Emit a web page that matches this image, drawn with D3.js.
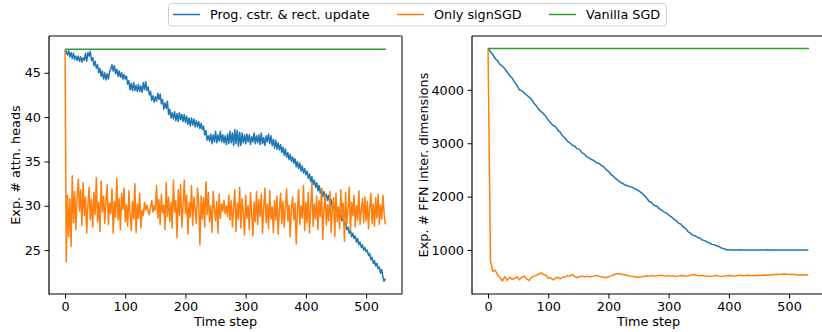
<!DOCTYPE html>
<html>
<head>
<meta charset="utf-8">
<script src="https://cdn.jsdelivr.net/npm/d3@7"></script>
<style>
  html, body { margin: 0; padding: 0; background: #fff; }
  svg { display: block; font-family: "DejaVu Sans", sans-serif; }
</style>
</head>
<body>
<svg id="chart" width="822" height="332"></svg>
<script>
// ---------------- data ----------------
const seriesNames = ["Prog. cstr. & rect. update", "Only signSGD", "Vanilla SGD"];
const seriesColors = ["#1f77b4", "#ff7f0e", "#2ca02c"];

// left panel: time steps 0,2,4,...,532
const stepsLeft = d3.range(0, 533, 2);
const headsProg = [
  47.6, 47.4, 47.0, 47.5, 46.8, 47.3, 46.6, 47.2, 46.5, 46.9,
  46.4, 46.9, 46.3, 46.8, 46.2, 46.7, 46.4, 47.2, 46.3, 47.3,
  46.9, 47.4, 46.4, 46.7, 45.8, 46.3, 45.5, 45.9, 45.0, 45.5,
  44.6, 45.2, 44.3, 45.0, 44.2, 44.9, 44.3, 45.1, 45.4, 45.9,
  45.2, 45.8, 44.9, 45.4, 44.6, 45.2, 44.5, 45.0, 44.3, 44.8,
  44.3, 44.6, 43.7, 44.1, 43.1, 43.8, 43.0, 43.9, 43.0, 43.6,
  42.9, 43.7, 42.9, 43.5, 42.8, 43.9, 43.1, 44.0, 43.0, 43.4,
  42.5, 42.9, 41.9, 42.4, 41.7, 42.3, 41.8, 42.7, 42.0, 42.6,
  41.5, 42.0, 40.9, 41.6, 41.0, 41.8, 40.3, 40.9, 39.9, 40.5,
  39.8, 40.6, 39.6, 40.4, 39.5, 40.5, 39.7, 40.3, 39.5, 40.3,
  39.4, 40.1, 39.2, 39.9, 39.0, 39.9, 39.1, 39.8, 38.9, 39.6,
  38.9, 39.5, 38.7, 39.3, 38.6, 39.0, 38.0, 38.5, 37.4, 37.9,
  37.3, 38.1, 37.0, 38.0, 37.2, 38.4, 37.1, 38.0, 37.3, 38.4,
  37.2, 38.0, 37.1, 37.9, 36.9, 38.1, 37.0, 38.4, 37.1, 38.2,
  36.8, 38.6, 37.0, 38.5, 36.7, 38.3, 36.8, 38.2, 37.1, 38.0,
  37.0, 38.1, 37.2, 38.0, 36.9, 37.8, 37.2, 38.2, 37.0, 37.9,
  37.1, 38.0, 36.9, 38.2, 37.0, 37.7, 36.8, 37.9, 37.2, 38.1,
  37.0, 37.9, 36.8, 37.5, 36.5, 37.4, 36.4, 37.1, 36.3, 36.9,
  36.0, 36.6, 35.7, 36.4, 35.5, 36.0, 35.2, 35.8, 35.0, 35.5,
  34.8, 35.3, 34.4, 35.0, 34.2, 34.8, 33.9, 34.5, 33.7, 34.2,
  33.5, 33.9, 33.1, 33.6, 32.7, 33.3, 32.4, 32.9, 32.1, 32.6,
  31.7, 32.3, 31.4, 31.9, 31.0, 31.6, 30.8, 31.3, 30.6, 31.2,
  30.3, 30.7, 29.8, 30.3, 29.4, 29.9, 29.0, 29.4, 28.6, 29.0,
  28.3, 28.6, 27.9, 28.1, 27.3, 27.6, 26.9, 27.3, 26.5, 26.9,
  26.3, 26.6, 25.9, 26.3, 25.6, 25.9, 25.3, 25.6, 25.0, 25.3,
  24.8, 25.0, 24.4, 24.6, 23.9, 24.2, 23.5, 23.8, 23.2, 23.5,
  22.9, 23.1, 22.4, 22.8, 21.9, 21.5, 21.8
];
const headsSign = [
  47.6, 23.7, 31.2, 26.5, 30.8, 25.4, 33.4, 28.1, 31.6, 27.3,
  30.9, 33.0, 29.4, 31.8, 27.8, 32.6, 28.9, 31.0, 26.9, 30.2,
  32.1, 28.4, 30.7, 27.6, 31.5, 29.0, 33.2, 28.2, 30.4, 27.1,
  32.8, 29.3, 31.1, 28.0, 30.6, 32.4, 27.9, 30.3, 29.1, 31.9,
  26.9, 30.5, 28.7, 33.1, 28.4, 30.8, 27.3, 31.4, 29.6, 32.0,
  28.2, 30.1, 27.7, 31.7, 29.0, 27.2, 30.5, 28.5, 32.5, 27.0,
  30.2, 28.6, 31.4, 27.5, 29.5, 28.9, 30.4, 29.5, 30.1, 29.4,
  29.0, 29.9, 30.6, 29.3, 30.0, 29.5, 32.3, 28.6, 30.7, 27.9,
  31.3, 29.2, 30.1, 27.3, 32.6, 28.8, 31.0, 28.2, 30.4, 27.5,
  32.9, 29.3, 30.6, 26.4, 31.8, 28.9, 32.4, 27.6, 30.0, 32.9,
  29.1, 31.2, 26.8, 30.4, 28.7, 32.3, 27.8, 31.0, 29.6, 28.0,
  32.0, 30.3, 25.6, 31.1, 28.5, 30.9, 27.6, 32.7, 29.0, 31.5,
  28.2, 30.0, 27.0, 31.6, 29.7, 28.3, 30.5, 26.9, 31.3, 28.6,
  30.2, 29.4, 30.6, 29.1, 30.0, 28.8, 31.2, 28.4, 30.6, 27.6,
  29.9, 31.8, 27.1, 30.3, 28.5, 32.1, 27.5, 30.8, 29.3, 26.7,
  31.2, 28.6, 30.0, 27.3, 31.5, 29.0, 26.6, 30.4, 28.2, 31.6,
  27.9, 30.7, 28.8, 31.3, 26.9, 29.8, 32.0, 28.1, 30.2, 27.4,
  31.7, 28.5, 29.9, 27.0, 30.6, 28.4, 31.1, 26.8, 29.5, 31.4,
  28.0, 30.5, 27.6, 29.8, 31.9, 28.3, 30.1, 26.5, 29.7, 31.0,
  28.4, 30.3, 25.7, 29.6, 31.8, 27.9, 30.0, 28.6, 32.3, 27.2,
  30.4, 28.1, 31.5, 26.9, 29.8, 32.6, 27.7, 30.2, 28.5, 31.1,
  27.3, 30.6, 28.8, 32.0, 26.2, 29.4, 31.3, 27.8, 30.1, 28.3,
  31.6, 27.0, 29.7, 30.9, 26.5, 31.4, 28.2, 29.9, 27.4, 31.8,
  28.6, 30.3, 26.0, 31.5, 28.0, 29.6, 32.1, 27.2, 30.4, 28.9,
  31.2, 27.6, 30.0, 28.4, 31.7, 27.9, 29.5, 30.8, 28.1, 31.0,
  28.3, 30.5, 27.4, 29.8, 31.4, 28.0, 30.2, 27.7, 30.9, 28.6,
  31.3, 27.9, 30.1, 28.5, 31.2, 29.0, 27.9
];
const stepsFlat = [0, 533];
const headsVanilla = [47.65, 47.65];

// right panel: time steps 0,4,8,...,532
const stepsRight = d3.range(0, 533, 4);
const ffnProg = [
  4775, 4715, 4660, 4585, 4545, 4475, 4445, 4390, 4335, 4265,
  4225, 4145, 4085, 4000, 3985, 3945, 3905, 3865, 3825, 3755,
  3705, 3635, 3595, 3555, 3505, 3435, 3385, 3335, 3315, 3245,
  3205, 3135, 3095, 3035, 3005, 2965, 2945, 2895, 2885, 2825,
  2795, 2745, 2725, 2695, 2675, 2635, 2625, 2585, 2565, 2505,
  2475, 2415, 2385, 2335, 2305, 2265, 2245, 2215, 2205, 2185,
  2175, 2145, 2125, 2095, 2065, 2015, 1965, 1905, 1885, 1835,
  1825, 1775, 1745, 1715, 1695, 1655, 1625, 1585, 1555, 1505,
  1485, 1435, 1405, 1345, 1315, 1275, 1265, 1235, 1225, 1185,
  1175, 1145, 1135, 1105, 1100, 1075, 1065, 1035, 1025, 1005,
  1005, 1000, 1000, 998, 1000, 1002, 999, 1000, 1001, 998,
  1000, 999, 1001, 1000, 998, 1000, 1002, 1000, 999, 1000,
  1001, 999, 1000, 998, 1000, 1001, 999, 1000, 1000, 999,
  1000, 1001, 999, 1000
];
const ffnSign = [
  4775, 800, 600, 620, 530, 480, 420, 500, 430, 490,
  450, 470, 500, 440, 490, 510, 460, 430, 480, 510,
  520, 550, 570, 540, 530, 470, 480, 440, 470, 490,
  460, 490, 500, 520, 510, 540, 500, 480, 500, 510,
  495, 510, 500, 505, 510, 520, 510, 500, 490, 480,
  500, 510, 530, 550, 560, 550, 540, 530, 520, 510,
  505, 500, 490, 495, 500, 510, 515, 510, 520, 510,
  515, 520, 525, 515, 510, 520, 510, 515, 505, 510,
  520, 515, 510, 515, 525, 540, 530, 520, 515, 520,
  510, 510, 505, 510, 515, 520, 510, 505, 510, 515,
  520, 515, 510, 515, 520, 525, 515, 520, 525, 520,
  515, 520, 525, 520, 525, 530, 525, 530, 535, 540,
  545, 540, 545, 550, 545, 540, 545, 540, 535, 530,
  535, 530, 535, 530
];
const ffnVanilla = [4775, 4775];

const leftTicks = [25, 30, 35, 40, 45];
const rightTicks = [1000, 2000, 3000, 4000];
const xTicks = [0, 100, 200, 300, 400, 500];

// ---------------- layout ----------------
const svg = d3.select("#chart");
const FONT = 12.8;
const panels = [
  { x0: 49, x1: 402, y0: 36, y1: 294, yDomain: [20.05, 49.15], ticks: leftTicks,
    label: "Exp. # attn. heads", labelX: 19.5,
    series: [[stepsLeft, headsProg], [stepsLeft, headsSign], [stepsFlat, headsVanilla]] },
  { x0: 472, x1: 825, y0: 36, y1: 294, yDomain: [175, 5010], ticks: rightTicks,
    label: "Exp. # FFN inter. dimensions", labelX: 427.5,
    series: [[stepsRight, ffnProg], [stepsRight, ffnSign], [stepsFlat, ffnVanilla]] }
];

panels.forEach((p, pi) => {
  const x = d3.scaleLinear().domain([-26.65, 559.65]).range([p.x0, p.x1]);
  const y = d3.scaleLinear().domain(p.yDomain).range([p.y1, p.y0]);
  const g = svg.append("g");

  const clipId = "clip" + pi;
  svg.append("clipPath").attr("id", clipId).append("rect")
    .attr("x", p.x0).attr("y", p.y0).attr("width", p.x1 - p.x0).attr("height", p.y1 - p.y0);

  const line = d3.line().x(d => x(d[0])).y(d => y(d[1]));
  const plot = g.append("g").attr("clip-path", `url(#${clipId})`);
  p.series.forEach((s, si) => {
    const n = Math.min(s[0].length, s[1].length);
    const pts = d3.range(n).map(i => [s[0][i], s[1][i]]);
    plot.append("path").datum(pts)
      .attr("d", line)
      .attr("fill", "none")
      .attr("stroke", seriesColors[si])
      .attr("stroke-width", 1.5)
      .attr("stroke-linejoin", "round");
  });

  // axes
  const xAxis = d3.axisBottom(x).tickValues(xTicks).tickSize(4.5).tickPadding(3.5).tickFormat(d3.format("d"));
  const yAxis = d3.axisLeft(y).tickValues(p.ticks).tickSize(4.5).tickPadding(3.5).tickFormat(d3.format("d"));
  const gx = g.append("g").attr("transform", `translate(0,${p.y1})`).call(xAxis);
  const gy = g.append("g").attr("transform", `translate(${p.x0},0)`).call(yAxis);
  [gx, gy].forEach(a => {
    a.select(".domain").remove();
    a.selectAll("text").attr("font-size", FONT).attr("font-family", "DejaVu Sans").attr("fill", "#000");
    a.selectAll("line").attr("stroke", "#000").attr("stroke-width", 1);
  });

  // spines
  g.append("line").attr("x1", p.x0).attr("x2", p.x1).attr("y1", p.y0).attr("y2", p.y0)
    .attr("stroke", "#808080").attr("stroke-width", 2);
  g.append("line").attr("x1", p.x1).attr("x2", p.x1).attr("y1", p.y0).attr("y2", p.y1)
    .attr("stroke", "#808080").attr("stroke-width", 2);
  g.append("line").attr("x1", p.x0).attr("x2", p.x0).attr("y1", p.y0).attr("y2", p.y1 + 0.5)
    .attr("stroke", "#000").attr("stroke-width", 1.2);
  g.append("line").attr("x1", p.x0).attr("x2", p.x1).attr("y1", p.y1).attr("y2", p.y1)
    .attr("stroke", "#000").attr("stroke-width", 1.2);

  // labels
  g.append("text").attr("x", (p.x0 + p.x1) / 2).attr("y", 326)
    .attr("text-anchor", "middle").attr("font-size", FONT).text("Time step");
  g.append("text").attr("transform", `translate(${p.labelX},${(p.y0 + p.y1) / 2}) rotate(-90)`)
    .attr("text-anchor", "middle").attr("font-size", FONT).text(p.label);
});

// legend
const lg = svg.append("g");
lg.append("rect").attr("x", 168.5).attr("y", 3.5).attr("width", 498).attr("height", 22.5)
  .attr("rx", 3).attr("fill", "#fff").attr("stroke", "#d0d0d0").attr("stroke-width", 1);
const legendLineX = [173, 397, 549];
legendLineX.forEach((lx, i) => {
  lg.append("line").attr("x1", lx).attr("x2", lx + 27).attr("y1", 14.5).attr("y2", 14.5)
    .attr("stroke", seriesColors[i]).attr("stroke-width", 1.5);
  lg.append("text").attr("x", lx + 37).attr("y", 18.8).attr("font-size", FONT).text(seriesNames[i]);
});
</script>
</body>
</html>
